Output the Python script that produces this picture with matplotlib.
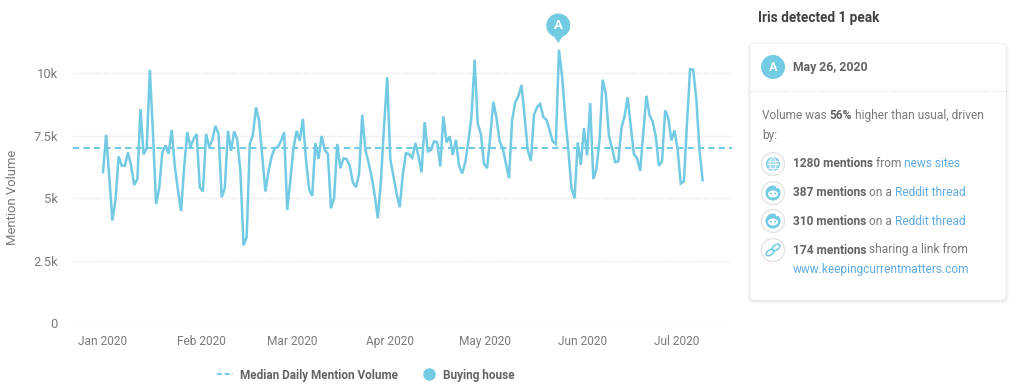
import matplotlib
matplotlib.use('Agg')
import matplotlib.pyplot as plt
from matplotlib.lines import Line2D
from matplotlib.patches import Circle, FancyBboxPatch, Ellipse, Polygon

plt.rcParams['font.family'] = ['Roboto', 'DejaVu Sans']

# daily values, starting at the first day of january
volume = [6040, 7530, 5870, 4110, 4930, 6670, 6300, 6300, 6830, 6300,
          5530, 5760, 8560, 6750, 7000, 10130, 7600, 4770, 5400, 6830,
          7110, 6770, 7730, 6270, 5330, 4490, 6270, 7640, 7040, 7360,
          7560, 5430, 5270, 7570, 7040, 7330, 7890, 7560, 5040, 5400,
          7690, 6890, 7670, 7330, 6070, 3120, 3440, 7170, 7530, 8630,
          8070, 6670, 5270, 6070, 6670, 7000, 7040, 7290, 7630, 4530,
          5730, 7000, 7690, 7290, 8170, 6530, 5360, 5090, 7200, 6570,
          7490, 6930, 6770, 4600, 5000, 7170, 6200, 6590, 6560, 6300,
          5640, 5440, 5970, 8330, 6930, 6440, 5870, 5130, 4200, 5730,
          7870, 9830, 6560, 5870, 5200, 4640, 5930, 6800, 6760, 6610,
          7200, 6690, 6030, 8040, 6870, 6930, 7270, 7230, 6270, 8270,
          7230, 7470, 6730, 7330, 6300, 5990, 6430, 7270, 8270, 10530,
          7970, 7570, 6370, 6200, 7470, 8850, 8200, 7270, 7000, 6400,
          5800, 8110, 8830, 9070, 9520, 8270, 6930, 6490, 8330, 8640,
          8760, 8240, 8130, 7730, 7270, 7160, 10930, 9870, 8270, 6930,
          5400, 5000, 7230, 6330, 7800, 6710, 8800, 5770, 6170, 7330,
          9730, 9170, 7490, 7000, 6440, 6470, 7800, 8270, 9030, 7870,
          6760, 6600, 6090, 7600, 9090, 8310, 8070, 7470, 6290, 6470,
          8510, 8200, 7310, 7710, 6930, 5590, 5670, 8000, 10160, 10130,
          8930, 6930, 5720]
median_volume = 7000
days = list(range(len(volume)))

month_labels = ['Jan 2020', 'Feb 2020', 'Mar 2020', 'Apr 2020', 'May 2020', 'Jun 2020', 'Jul 2020']
month_days = [0, 31.4, 60.5, 91.9, 122.3, 153.7, 183.8]
y_ticks = [0, 2500, 5000, 7500, 10000]
y_labels = ['0', '2.5k', '5k', '7.5k', '10k']

BLUE = '#72cae3'
GRAY = '#7a7a7a'
DARK = '#636363'
LINK = '#5fabe2'

W, H = 1024, 392
fig = plt.figure(figsize=(W / 100, H / 100), dpi=100, facecolor='white')

# main chart
ax = fig.add_axes([73 / W, 1 - 323.5 / H, (732 - 73) / W, 323.5 / H])
ax.set_xlim((73 - 103) / 3.123, (732 - 103) / 3.123)
ax.set_ylim(0, 12914)
for s in ax.spines.values():
    s.set_visible(False)
ax.grid(axis='y', color='#e6e6e6', linestyle=(0, (1, 1)), linewidth=1)
ax.set_axisbelow(True)
ax.set_yticks(y_ticks, y_labels)
ax.set_xticks(month_days, month_labels)
ax.tick_params(axis='y', length=0, pad=11, labelsize=9.4, labelcolor=GRAY)
ax.tick_params(axis='x', length=0, pad=8, labelsize=8.6, labelcolor=GRAY)
for lab in ax.get_yticklabels() + ax.get_xticklabels():
    lab.set_clip_on(False)
ax.axhline(median_volume, color=BLUE, linestyle=(0, (3, 2)), linewidth=1.5)
ax.plot(days, volume, color=BLUE, linewidth=1.8, solid_joinstyle='miter')
ax.set_ylabel('Mention Volume', fontsize=9.4, color=GRAY, va='center')
ax.yaxis.set_label_coords((12 - 73) / (732 - 73), (323.5 - 197) / 323.5)

leg = fig.legend(handles=[Line2D([], [], color=BLUE, linestyle=(0, (2.5, 1.5)), linewidth=1.4),
                          Line2D([], [], color=BLUE, marker='o', linestyle='', markersize=8)],
                 labels=['Median Daily Mention Volume', 'Buying house'],
                 ncol=2, frameon=False, loc='center', bbox_to_anchor=(366 / W, 1 - 375 / H),
                 prop={'size': 8.5, 'weight': 'bold'}, labelcolor=DARK,
                 handlelength=1.4, columnspacing=1.9, handletextpad=0.55)

# overlay in pixel coordinates for the peak pin and the side card
ov = fig.add_axes([0, 0, 1, 1], facecolor='none')
ov.set_xlim(0, W)
ov.set_ylim(H, 0)
ov.axis('off')

ov.add_patch(Polygon([[553, 35], [563.5, 35], [558.3, 43]], color=BLUE, lw=0))
ov.add_patch(Circle((558.3, 25.5), 12, color=BLUE, lw=0))
ov.text(558.3, 25.5, 'A', color='white', fontsize=9.5, fontweight='bold', ha='center', va='center')

ov.text(758, 18, 'Iris detected 1 peak', color='#404040', fontsize=9.8, fontweight='bold', va='center')

# soft shadow under the card
for grow, alpha in [(3, 0.015), (2, 0.025), (1, 0.04)]:
    ov.add_patch(FancyBboxPatch((750 - grow, 44 - grow + 1), 256 + 2 * grow, 256 + 2 * grow,
                                boxstyle='round,pad=0,rounding_size=6', fc='black', ec='none', alpha=alpha))
ov.add_patch(FancyBboxPatch((750, 43.5), 256, 256.5, boxstyle='round,pad=0,rounding_size=5',
                            fc='white', ec='#f2f2f2', lw=0.5))
ov.plot([750, 1006], [91, 91], color='#e8e8e8', linestyle=(0, (1, 1)), linewidth=1)

ov.add_patch(Circle((773, 67), 12, color=BLUE, lw=0))
ov.text(773, 67, 'A', color='white', fontsize=9.2, fontweight='bold', ha='center', va='center')
ov.text(793, 67, 'May 26, 2020', color=DARK, fontsize=8.8, fontweight='bold', va='center')


def segments(x, y, parts):
    # write pieces of a line one after the other, each with its own style
    renderer = fig.canvas.get_renderer()
    for txt, color, weight in parts:
        t = ov.text(x, y, txt, color=color, fontweight=weight, fontsize=8.55, va='center')
        x += t.get_window_extent(renderer).width


segments(762, 115, [('Volume was ', GRAY, 'normal'), ('56%', DARK, 'bold'),
                    (' higher than usual, driven', GRAY, 'normal')])
segments(762, 135, [('by:', GRAY, 'normal')])
segments(793, 163, [('1280 mentions', DARK, 'bold'), (' from ', GRAY, 'normal'), ('news sites', LINK, 'normal')])
segments(793, 192, [('387 mentions', DARK, 'bold'), (' on a ', GRAY, 'normal'), ('Reddit thread', LINK, 'normal')])
segments(793, 221, [('310 mentions', DARK, 'bold'), (' on a ', GRAY, 'normal'), ('Reddit thread', LINK, 'normal')])
segments(793, 250, [('174 mentions', DARK, 'bold'), (' sharing a link from', GRAY, 'normal')])
segments(793, 270, [('www.keepingcurrentmatters.com', LINK, 'normal')])

for cy in [164, 193, 221, 250]:
    ov.add_patch(Circle((773, cy), 11.5, fc='white', ec='#e4e4e4', lw=1))

# globe
ov.add_patch(Circle((773, 164), 6.5, fc='#a5dcec', ec=BLUE, lw=0.8))
ov.add_patch(Ellipse((773, 164), 6, 13, fc='none', ec='white', lw=0.6))
ov.plot([766.5, 779.5], [164, 164], color='white', lw=0.6)
ov.plot([767.5, 778.5], [160.5, 160.5], color='white', lw=0.5)
ov.plot([767.5, 778.5], [167.5, 167.5], color='white', lw=0.5)

# reddit heads
for cy in [193, 221]:
    ov.add_patch(Circle((773, cy), 7.5, color=BLUE, lw=0))
    ov.add_patch(Ellipse((773, cy + 1), 10, 7, color='white', lw=0))
    ov.add_patch(Circle((770.8, cy + 0.5), 1, color=BLUE, lw=0))
    ov.add_patch(Circle((775.2, cy + 0.5), 1, color=BLUE, lw=0))
    ov.add_patch(Circle((777, cy - 6), 1.3, color='white', lw=0))

# link
ov.add_patch(Ellipse((770, 252.5), 9, 5, angle=-35, fc='none', ec=BLUE, lw=1.1))
ov.add_patch(Ellipse((776, 247.5), 9, 5, angle=-35, fc='none', ec=BLUE, lw=1.1))

fig.savefig('out.png', dpi=100)
